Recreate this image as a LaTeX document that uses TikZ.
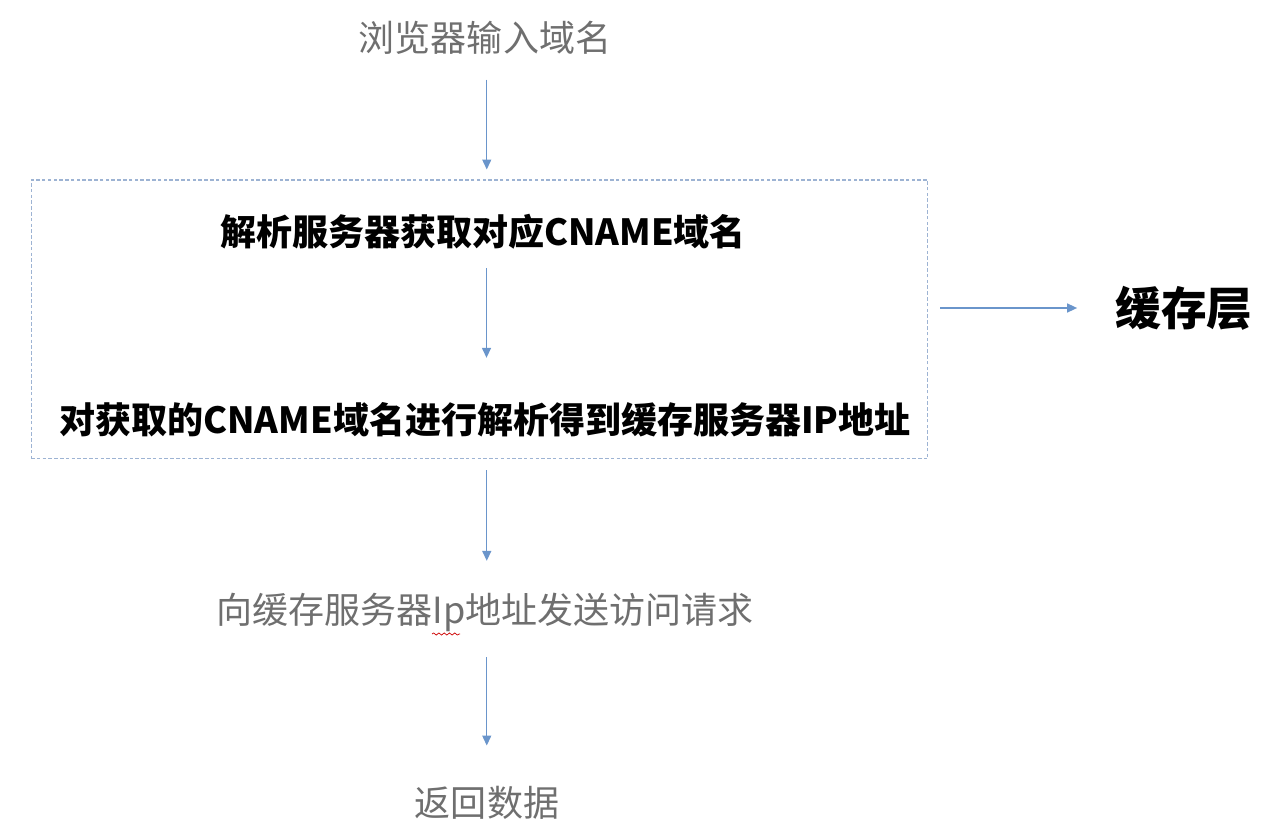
\documentclass[tikz,border=0pt]{standalone}
\usepackage{fontspec}
\usepackage{tikz}
\usetikzlibrary{arrows.meta,decorations.pathmorphing}
\newfontfamily\cjk{Noto Sans CJK SC}
\definecolor{flowblue}{HTML}{6A95CB}
\definecolor{boxblue}{HTML}{9DB3D3}
\definecolor{stepgray}{HTML}{6F6F6F}

\begin{document}
\begin{tikzpicture}[x=0.02cm,y=-0.02cm,
            	every node/.style={inner sep=0pt,font=\cjk\fontsize{20.5}{24}\selectfont},
            	flow/.style={draw=flowblue,line width=0.8pt,-{Triangle[length=0.2cm,width=0.18cm]}},
            	plain/.style={text=stepgray},
            	strong/.style={text=black,font=\cjk\bfseries\fontsize{20.5}{24}\selectfont}]
            	\useasboundingbox (0,0) rectangle (1288,834);
            	
            	\node[draw=boxblue,line width=0.6pt,dash pattern=on 2pt off 1.3pt,minimum width=17.94cm,minimum height=5.58cm] (box) at (479.5,319.5) {};
            	
            	\node[plain]  (input)   at (485, 38)  {浏览器输入域名};
            	\node[strong] (parse)   at (483, 232) {解析服务器获取对应CNAME域名};
            	\node[strong] (resolve) at (485, 420) {对获取的CNAME域名进行解析得到缓存服务器IP地址};
            	\node[strong,font=\cjk\bfseries\fontsize{26}{30}\selectfont] (cache) at (1184, 308) {缓存层};
            	\node[plain]  (request) at (485, 612) {向缓存服务器Ip地址发送访问请求};
            	\node[plain]  (back)    at (487, 803) {返回数据};
            
            	\draw[flow,shorten <=0.49cm,shorten >=0.2cm] ([xshift=1pt]input.south) -- ([xshift=1pt]input.south |- box.north);
            	\draw[flow,shorten <=0.37cm,shorten >=0.89cm] ([xshift=2pt]parse.south) -- ([xshift=2pt]parse.south |- resolve.north);
            	\draw[flow,shorten <=0.24cm,shorten >=0.76cm] (box.east |- cache.west) -- (cache.west);
            	\draw[flow,shorten <=0.22cm,shorten >=0.63cm] ([xshift=1pt]request.north |- box.south) -- ([xshift=1pt]request.north);
            	\draw[flow,shorten <=0.51cm,shorten >=0.81cm] ([xshift=1pt]request.south) -- ([xshift=1pt]request.south |- back.north);
            
            	% spell-check mark under Ip
            	\draw[red!80!black,line width=0.4pt,decorate,decoration={snake,amplitude=0.6pt,segment length=3pt}] (432,634) -- (460,634);
            	\end{tikzpicture}
\end{document}
